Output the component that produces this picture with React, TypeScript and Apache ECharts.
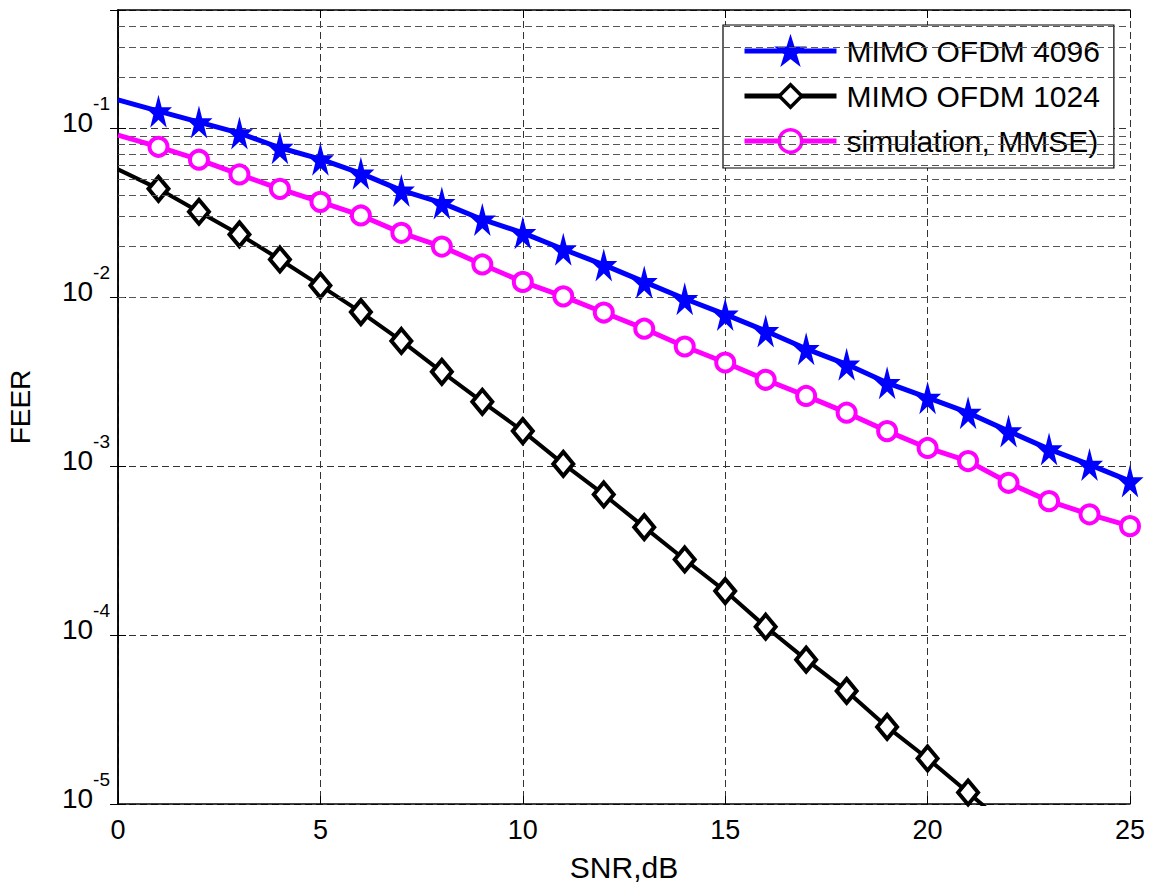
import React, { useEffect, useRef } from 'react';
import * as echarts from 'echarts';

const snr = [0, 1, 2, 3, 4, 5, 6, 7, 8, 9, 10, 11, 12, 13, 14, 15, 16, 17, 18, 19, 20, 21, 22, 23, 24, 25];
const feer4096 = [0.147, 0.126, 0.1086, 0.0934, 0.0765, 0.0655, 0.054, 0.0428, 0.0361, 0.0288, 0.024, 0.0192, 0.0155, 0.0123, 0.00977, 0.0079, 0.0063, 0.00494, 0.004, 0.00311, 0.00254, 0.00207, 0.00161, 0.00126, 0.00102, 0.000815];
const feer1024 = [0.057, 0.0437, 0.032, 0.0235, 0.0167, 0.0117, 0.00815, 0.0055, 0.00361, 0.0024, 0.00161, 0.00103, 0.000679, 0.000435, 0.00028, 0.000182, 0.000112, 0.0000715, 0.0000467, 0.0000286, 0.0000186, 0.0000117, 0.0000073];
const feerSim = [0.091, 0.0775, 0.065, 0.0532, 0.0437, 0.0366, 0.0304, 0.024, 0.0199, 0.0156, 0.0123, 0.0101, 0.0081, 0.0065, 0.0051, 0.0041, 0.00324, 0.0026, 0.00207, 0.00161, 0.00128, 0.00107, 0.000796, 0.00062, 0.000518, 0.000441];
const seriesNames = ['MIMO OFDM 4096', 'MIMO OFDM 1024', 'simulation, MMSE)'];
const yMinorGrid = [
  2e-5, 3e-5, 4e-5, 5e-5, 6e-5, 7e-5, 8e-5, 9e-5,
  2e-4, 3e-4, 4e-4, 5e-4, 6e-4, 7e-4, 8e-4, 9e-4,
  2e-3, 3e-3, 4e-3, 5e-3, 6e-3, 7e-3, 8e-3, 9e-3,
  2e-2, 3e-2, 4e-2, 5e-2, 6e-2, 7e-2, 8e-2, 9e-2,
  0.2, 0.3, 0.4,
];

const FONT = '"Liberation Sans", Arial, Helvetica, sans-serif';
const starPath = 'path://M50,0L61.8,35.4L100,35.4L69.1,57.3L80.9,92.7L50,70.8L19.1,92.7L30.9,57.3L0,35.4L38.2,35.4Z';

function toData(values: number[]) {
  return values.map((v, i) => (i === 0 ? { value: [snr[i], v], symbol: 'none' } : [snr[i], v]));
}

const dashed = { type: [7, 4] as any, color: '#333', width: 1 };

export default function App() {
  const ref = useRef<HTMLDivElement>(null);
  useEffect(() => {
    if (!ref.current) return;
    const chart = echarts.init(ref.current, null, { renderer: 'svg' });
    const yLabelFormatter = (value: number) => {
      const e = Math.round(Math.log10(value));
      if (Math.abs(value - Math.pow(10, e)) / value > 1e-6) return '';
      return '{b|10}{s|' + e + '}';
    };
    chart.setOption({
      animation: false,
      backgroundColor: '#fff',
      textStyle: { fontFamily: FONT },
      grid: { left: 118, top: 10, right: 21, bottom: 78, containLabel: false, outerBoundsMode: 'none' },
      legend: {
        orient: 'vertical',
        left: 723,
        top: 25,
        padding: [11, 14, 12, 19],
        itemWidth: 92,
        itemHeight: 28,
        itemGap: 15,
        backgroundColor: '#fff',
        borderColor: '#000',
        borderWidth: 1.2,
        borderRadius: 0,
        lineStyle: { width: 5 },
        itemStyle: { borderWidth: 3.5 },
        textStyle: { fontSize: 30, color: '#000', fontFamily: FONT, padding: [0, 0, 0, 5] },
        data: seriesNames,
      },
      xAxis: [
        {
          type: 'value', min: 0, max: 25, interval: 5, position: 'bottom',
          axisLine: { show: true, onZero: false, lineStyle: { color: '#000', width: 1.5 } },
          axisTick: { show: true, inside: true, length: 8, lineStyle: { color: '#000', width: 1 } },
          axisLabel: { fontSize: 27, color: '#000', margin: 12, fontFamily: FONT },
          splitLine: { show: true, lineStyle: dashed },
          name: 'SNR,dB', nameLocation: 'middle', nameGap: 48,
          nameTextStyle: { fontSize: 30, color: '#000', fontFamily: FONT },
        },
        {
          type: 'value', min: 0, max: 25, interval: 5, position: 'top',
          axisLine: { show: true, onZero: false, lineStyle: { color: '#000', width: 1.5 } },
          axisTick: { show: true, inside: true, length: 8, lineStyle: { color: '#000', width: 1 } },
          axisLabel: { show: false },
          splitLine: { show: false },
        },
      ],
      yAxis: [
        {
          type: 'log', logBase: 10, min: 1e-5, max: 0.5, position: 'left',
          axisLine: { show: true, lineStyle: { color: '#000', width: 1.5 } },
          axisTick: { show: true, inside: true, length: 8, lineStyle: { color: '#000', width: 1 } },
          axisLabel: {
            formatter: yLabelFormatter,
            fontSize: 28,
            color: '#000',
            fontFamily: FONT,
            margin: 8,
            padding: [0, 0, 12, 0],
            rich: {
              b: { fontSize: 28, color: '#000', fontFamily: FONT, lineHeight: 28, verticalAlign: 'bottom' },
              s: { fontSize: 19, color: '#000', fontFamily: FONT, lineHeight: 19, padding: [0, 0, 23, 0], verticalAlign: 'bottom' },
            },
          },
          splitLine: { show: true, lineStyle: dashed },
          name: 'FEER', nameLocation: 'middle', nameGap: 84, nameRotate: 90,
          nameTextStyle: { fontSize: 28, color: '#000', fontFamily: FONT },
        },
        {
          type: 'log', logBase: 10, min: 1e-5, max: 0.5, position: 'right',
          axisLine: { show: true, lineStyle: { color: '#000', width: 1.5 } },
          axisTick: { show: true, inside: true, length: 8, lineStyle: { color: '#000', width: 1 } },
          axisLabel: { show: false },
          splitLine: { show: false },
        },
      ],
      series: [
        {
          name: 'minor-grid', type: 'line', data: [], z: 1, silent: true,
          xAxisIndex: 0, yAxisIndex: 0,
          markLine: {
            silent: true, symbol: ['none', 'none'], animation: false,
            label: { show: false },
            lineStyle: { type: [7, 4], color: '#555', width: 1 },
            emphasis: { disabled: true },
            data: yMinorGrid.map((v) => ({ yAxis: v })),
          },
        },
        {
          name: seriesNames[0], type: 'line', data: toData(feer4096), z: 5,
          symbol: starPath, symbolSize: [27, 33], showAllSymbol: true,
          lineStyle: { color: '#0000ff', width: 5 },
          itemStyle: { color: '#0000ff', borderWidth: 0, borderColor: '#0000ff' },
          clip: true,
        },
        {
          name: seriesNames[1], type: 'line', data: toData(feer1024), z: 4,
          symbol: 'diamond', symbolSize: [20, 24], showAllSymbol: true,
          lineStyle: { color: '#000', width: 4 },
          itemStyle: { color: '#fff', borderWidth: 4, borderColor: '#000' },
          clip: true,
        },
        {
          name: seriesNames[2], type: 'line', data: toData(feerSim), z: 5,
          symbol: 'circle', symbolSize: 18, showAllSymbol: true,
          lineStyle: { color: '#ff00ff', width: 5 },
          itemStyle: { color: '#fff', borderWidth: 4, borderColor: '#ff00ff' },
          clip: true,
        },
      ],
    });
    return () => chart.dispose();
  }, []);
  return <div ref={ref} style={{ position: 'fixed', left: 0, top: 0, width: 1151, height: 882, background: '#fff' }} />;
}
